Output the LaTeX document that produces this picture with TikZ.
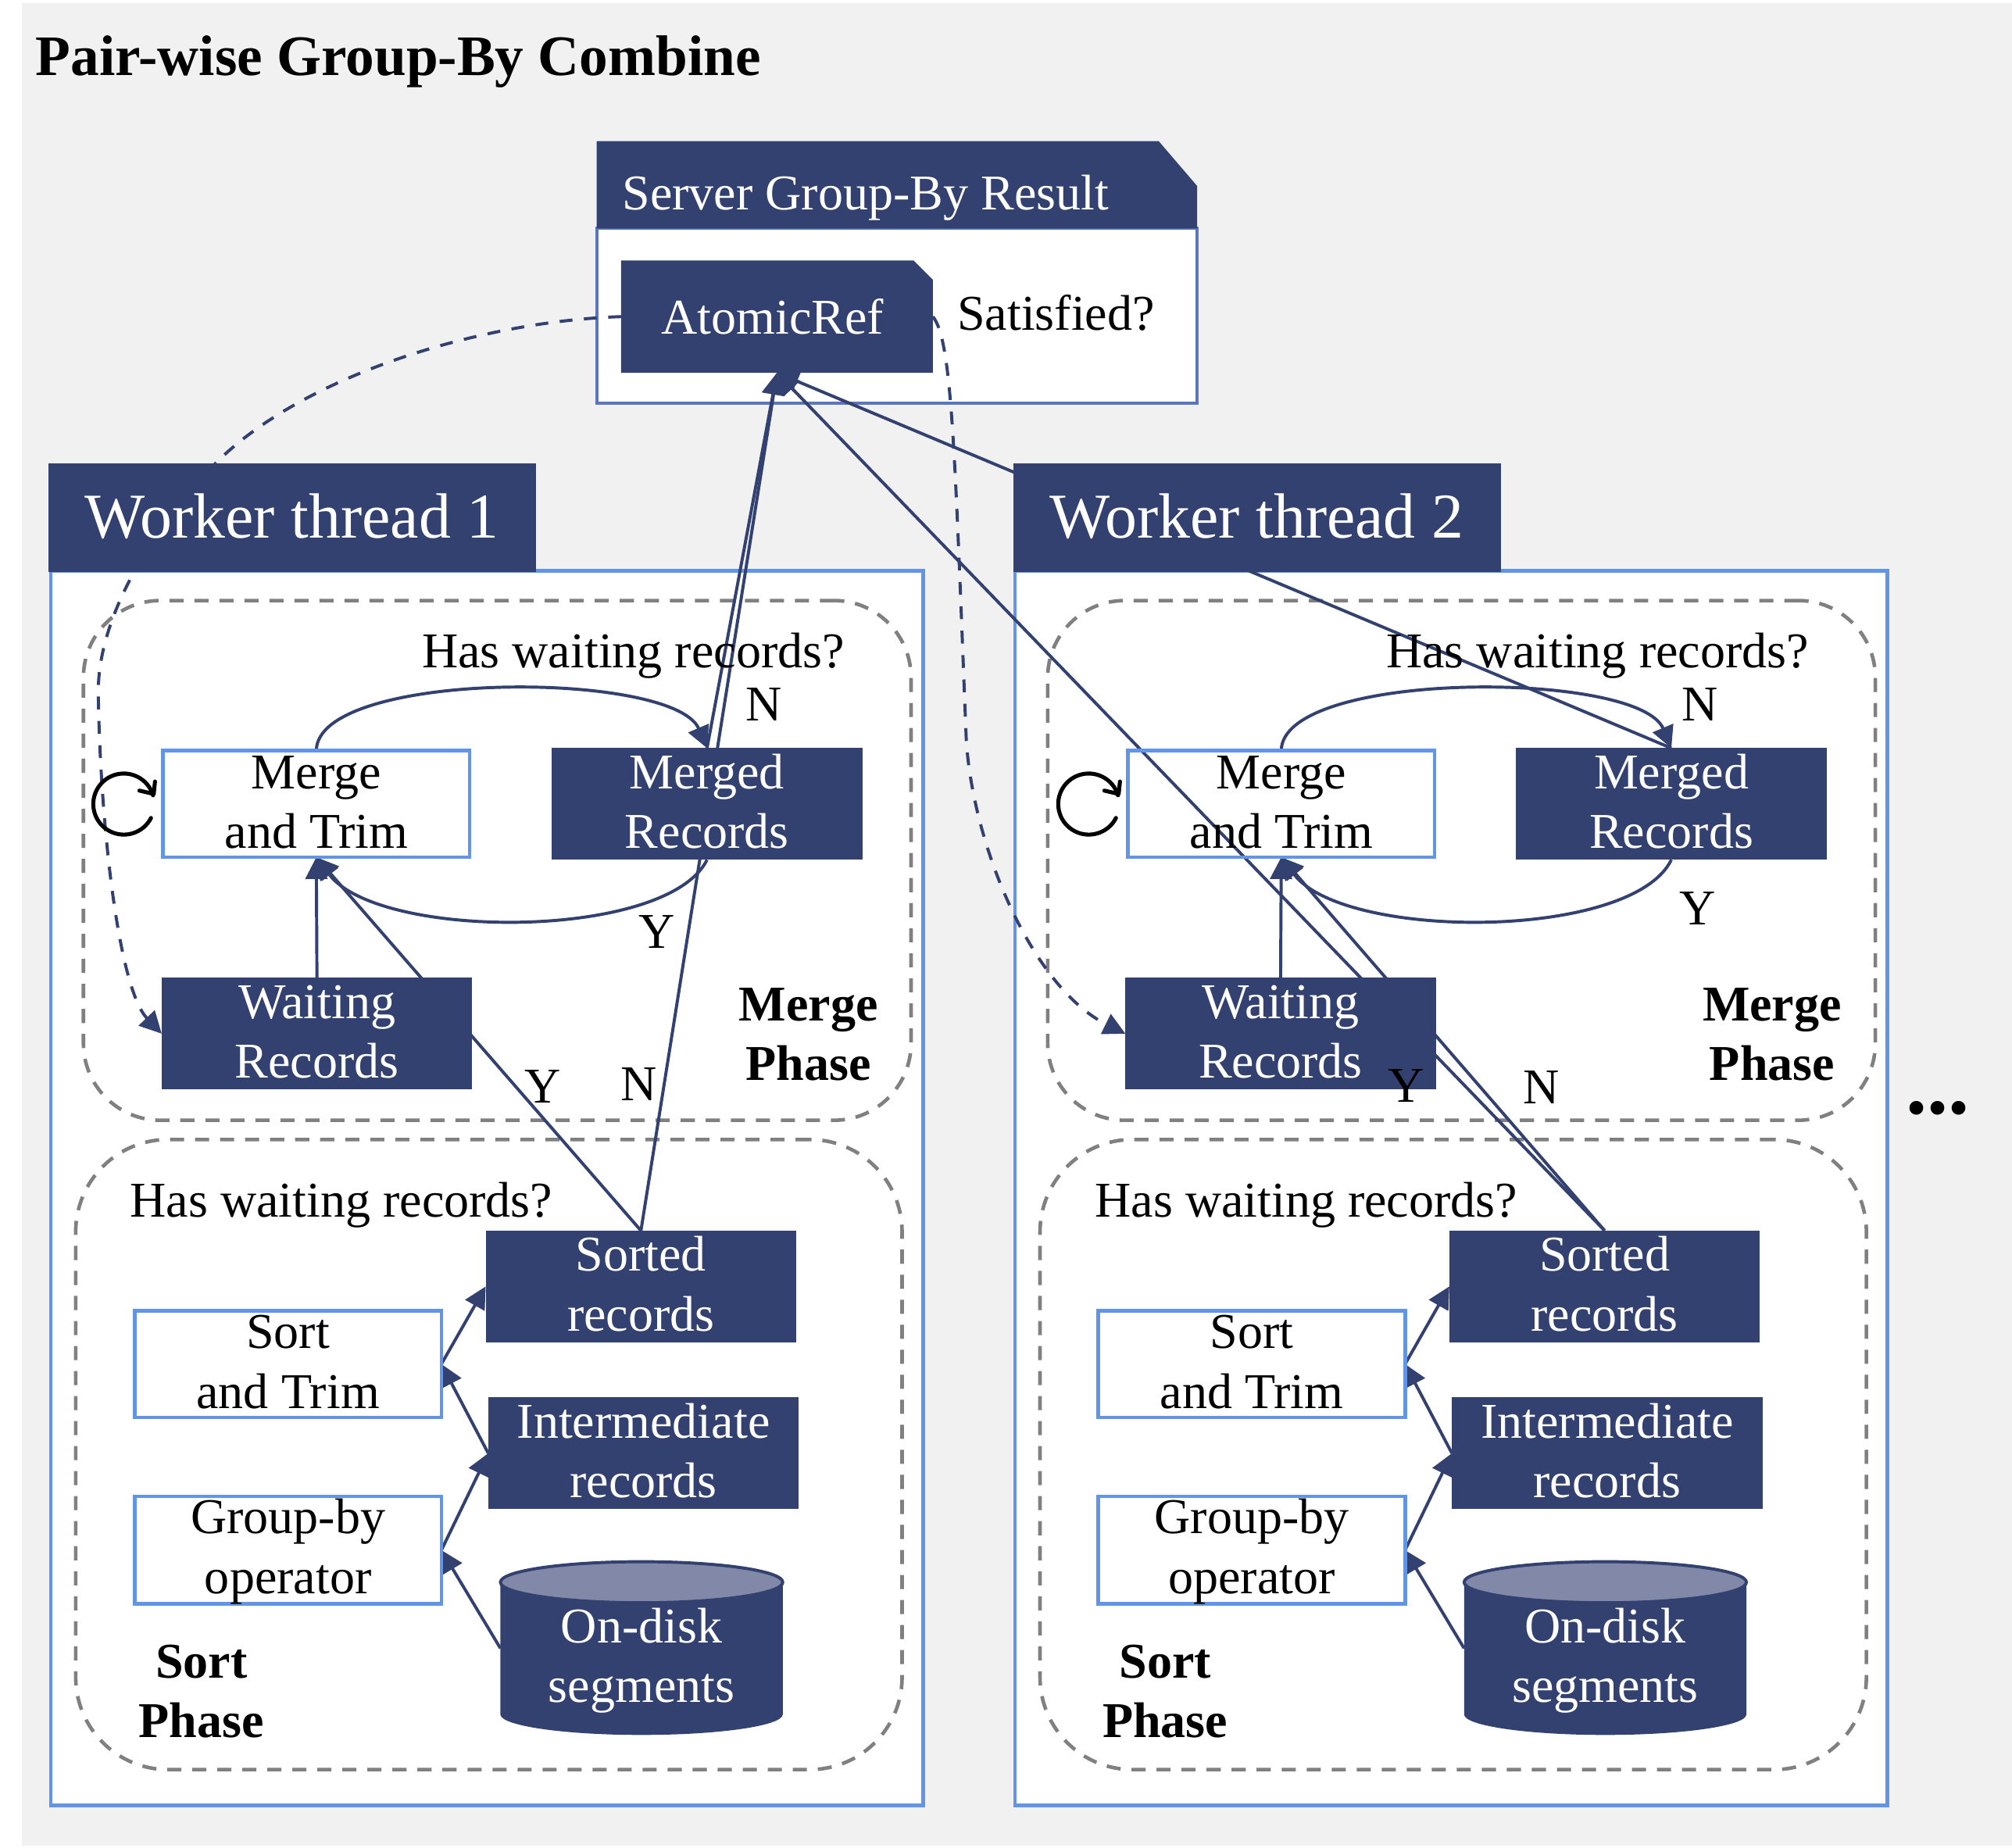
\documentclass[tikz,border=0pt]{standalone}
\usepackage{fontspec}
\setmainfont{Liberation Serif}
\usetikzlibrary{positioning, arrows.meta, backgrounds, shapes.misc}
\definecolor{navy}{HTML}{334170}
\definecolor{cap}{HTML}{8289A8}
\definecolor{pagebg}{HTML}{F1F1F1}
\definecolor{workerline}{HTML}{6295E8}
\definecolor{serverline}{HTML}{5B75BF}
\newcommand{\rowrule}{\rule[-6.5pt]{0pt}{35.5pt}}
\newcommand{\rows}[2]{\rowrule #1\\\rowrule #2}

\begin{document}
\begin{tikzpicture}[x=1pt, y=-1pt,
		every node/.style={inner sep=0pt, outer sep=0pt, align=center, font=\fontsize{39}{46.5}\selectfont},
		dark/.style={rectangle, fill=navy, text=white, minimum width=242, minimum height=87},
		op/.style={rectangle, draw=workerline, line width=2.8pt, minimum width=239, minimum height=83},
		diskend/.style={draw=navy, line width=2.4pt, fill=cap},
		workerbody/.style={rectangle, draw=workerline, line width=2.8pt, fill=white, minimum width=680, minimum height=962},
		workerhead/.style={rectangle, fill=navy, text=white, minimum width=380, minimum height=85, font=\fontsize{49.8}{58}\selectfont},
		phase/.style={rectangle, draw=gray, line width=2.8pt, dash pattern=on 11pt off 8.5pt},
		tag/.style={font=\fontsize{39}{46.5}\bfseries\selectfont},
		loopline/.style={line width=3.1pt, line cap=round, line join=round},
		arrow/.style={navy, line width=2.4pt, -{Triangle[length=17pt, width=17pt]}},
		dasharrow/.style={navy, line width=2.4pt, dash pattern=on 10pt off 9pt, -{Triangle[length=17pt, width=17pt]}}]
	\useasboundingbox (0,0) rectangle (1568,1440);

	\begin{pgfonlayer}{background}
		\fill[pagebg] (17,2.5) rectangle (1568,1438.5);
		\node[rectangle, draw=serverline, line width=2.6pt, fill=white, minimum width=468, minimum height=136] (server) at (699,246) {};
		\node[workerbody] (worker1) at (379.5,926) {};
		\node[workerbody] (worker2) at (1131,926) {};
		\node[phase, rounded corners=60, minimum width=645, minimum height=405] (mergephase1) at (387.5,670.5) {};
		\node[phase, rounded corners=72, minimum width=644, minimum height=491] (sortphase1) at (381,1133.5) {};
		\node[phase, rounded corners=60, minimum width=645, minimum height=405] (mergephase2) at (1139,670.5) {};
		\node[phase, rounded corners=72, minimum width=644, minimum height=491] (sortphase2) at (1132.5,1133.5) {};
	\end{pgfonlayer}

	\fill[navy] (server.north west) -- ++(0,-68) -- ++(438,0) -- ++(30,35) -- (server.north east) -- cycle;
	\node[text=white, anchor=west] (servertitle) at (485,154) {Server Group-By Result};
	\node[chamfered rectangle, chamfered rectangle corners=north east, chamfered rectangle xsep=7.5, chamfered rectangle ysep=7.5, fill=navy, text=white, minimum width=243, minimum height=87.5] (atomic) at (605.5,246.75) {AtomicRef\hspace{7pt}};

	\node[workerhead] (workerhead1) at (227.5,403.5) {\raisebox{2.5pt}{Worker thread 1}};
	\node[workerhead] (workerhead2) at (979.5,403.5) {\raisebox{2.5pt}{Worker thread 2}};

	\node[op] (merge1) at (246.5,626.5) {\rows{Merge}{and Trim}};
	\node[dark] (merged1) at (551,626.5) {\rows{Merged}{Records}};
	\node[dark] (waiting1) at (247,805.5) {\rows{Waiting}{Records}};
	\node[op] (sort1) at (224.5,1063) {\rows{Sort}{and Trim}};
	\node[op] (groupby1) at (224.5,1208) {\rows{Group-by}{operator}};
	\node[dark] (sorted1) at (499.5,1002.5) {\rows{Sorted}{records}};
	\node[dark] (intermediate1) at (501.5,1132.5) {\rows{Intermediate}{records}};
	\fill[navy] (390,1233) -- (390,1336) arc[start angle=180, end angle=360, x radius=110pt, y radius=16pt] -- (610,1233) -- cycle;
	\draw[diskend] (500,1233) ellipse[x radius=110pt, y radius=16pt];
	\coordinate (disk1) at (390,1284.5);
	\node[text=white] (disktext1) at (500,1293) {\rows{On-disk}{segments}};

	\node[op] (merge2) at (998.5,626.5) {\rows{Merge}{and Trim}};
	\node[dark] (merged2) at (1302.5,626.5) {\rows{Merged}{Records}};
	\node[dark] (waiting2) at (998,805.5) {\rows{Waiting}{Records}};
	\node[op] (sort2) at (975.5,1063) {\rows{Sort}{and Trim}};
	\node[op] (groupby2) at (975.5,1208) {\rows{Group-by}{operator}};
	\node[dark] (sorted2) at (1250.5,1002.5) {\rows{Sorted}{records}};
	\node[dark] (intermediate2) at (1252.5,1132.5) {\rows{Intermediate}{records}};
	\fill[navy] (1141,1233) -- (1141,1336) arc[start angle=180, end angle=360, x radius=110pt, y radius=16pt] -- (1361,1233) -- cycle;
	\draw[diskend] (1251,1233) ellipse[x radius=110pt, y radius=16pt];
	\coordinate (disk2) at (1141,1284.5);
	\node[text=white] (disktext2) at (1251,1293) {\rows{On-disk}{segments}};

	\begin{pgfonlayer}{background}
		\draw[dasharrow] (atomic.west) .. controls (380,250) and (240,290) .. (169,360) .. controls (120,410) and (76,480) .. (76.6,540) .. controls (78,640) and (92,770) .. (waiting1.west);
		\draw[dasharrow] (atomic.east) .. controls (742,265) and (744,350) .. (753,576) .. controls (758,660) and (805,770) .. (waiting2.west);

		\draw[arrow] (merged1.north) -- (atomic.south);
		\draw[arrow] (sorted1.north) -- (atomic.south);
		\draw[arrow] (merged2.north) -- (atomic.south);
		\draw[arrow] (sorted2.north) -- (atomic.south);

		\draw[arrow] (merge1.north) .. controls (247,522) and (525,522) .. (merged1.north);
		\draw[arrow] (merged1.south) .. controls (520,733) and (295,733) .. (merge1.south);
		\draw[arrow] (waiting1.north) -- (merge1.south);
		\draw[arrow] (sorted1.north) -- (merge1.south);
		\draw[arrow] (sort1.east) -- (sorted1.west);
		\draw[arrow] (intermediate1.west) -- (sort1.east);
		\draw[arrow] (groupby1.east) -- (intermediate1.west);
		\draw[arrow] (disk1) -- (groupby1.east);

		\draw[arrow] (merge2.north) .. controls (999,522) and (1277,522) .. (merged2.north);
		\draw[arrow] (merged2.south) .. controls (1272,733) and (1047,733) .. (merge2.south);
		\draw[arrow] (waiting2.north) -- (merge2.south);
		\draw[arrow] (sorted2.north) -- (merge2.south);
		\draw[arrow] (sort2.east) -- (sorted2.west);
		\draw[arrow] (intermediate2.west) -- (sort2.east);
		\draw[arrow] (groupby2.east) -- (intermediate2.west);
		\draw[arrow] (disk2) -- (groupby2.east);
	\end{pgfonlayer}

	\node[anchor=west, font=\fontsize{44.6}{50}\bfseries\selectfont] (title) at (28,48) {Pair-wise Group-By Combine};
	\node (satisfied) at (823,244) {Satisfied?};

	\node (mergeask1) at (493.5,511) {Has waiting records?};
	\node (sortask1) at (266,939) {Has waiting records?};
	\node (n1a) at (595,549) {N};
	\node (y1a) at (512,726) {Y};
	\node (y1b) at (423,847) {Y};
	\node (n1b) at (498,845) {N};
	\node[tag] (mergetag1) at (630,806) {Merge\\Phase};
	\node[tag] (sorttag1) at (157,1318) {Sort\\Phase};
	\draw[loopline] (117.7,637.4) arc[start angle=-27, end angle=-343.4, radius=23.8pt];
	\draw[loopline] (108.6,616.1) -- (119.8,618.7) -- (120.8,609);

	\node (mergeask2) at (1245,511) {Has waiting records?};
	\node (sortask2) at (1018,939) {Has waiting records?};
	\node (n2a) at (1325,549) {N};
	\node (y2a) at (1323,708) {Y};
	\node (y2b) at (1096,846) {Y};
	\node (n2b) at (1201,847.5) {N};
	\node[tag] (mergetag2) at (1381,806) {Merge\\Phase};
	\node[tag] (sorttag2) at (908,1318) {Sort\\Phase};
	\draw[loopline] (869.7,637.4) arc[start angle=-27, end angle=-343.4, radius=23.8pt];
	\draw[loopline] (860.6,616.1) -- (871.8,618.7) -- (872.8,609);

	\node[anchor=base, font=\fontsize{66}{66}\bfseries\selectfont] (more) at (1510,868) {...};
\end{tikzpicture}
\end{document}
